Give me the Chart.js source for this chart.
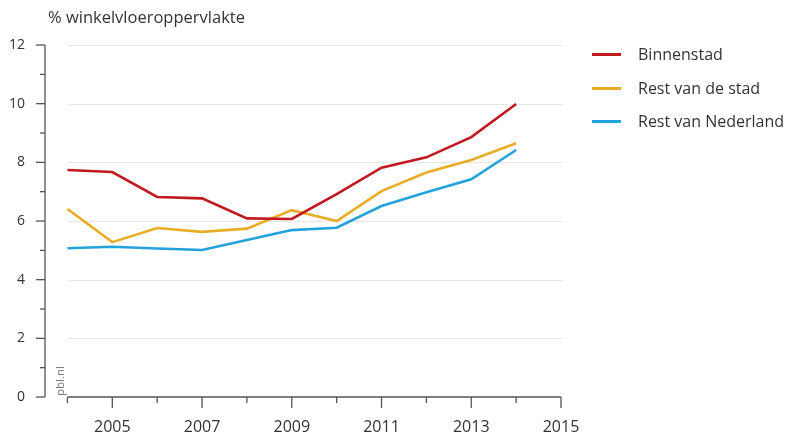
<!DOCTYPE html>
<html><head><meta charset="utf-8">
<script src="https://cdn.jsdelivr.net/npm/chart.js@4"></script>
<style>
body{margin:0;background:#fff;}
#wrap{position:relative;width:787px;height:434px;font-family:"Open Sans",sans-serif;color:#333;overflow:hidden;}
canvas{position:absolute;left:0;top:0;}
.title{position:absolute;left:48px;top:6px;font-size:16.5px;line-height:22px;white-space:nowrap;}
.pbl{position:absolute;left:45px;top:374px;font-size:11.5px;color:#777;transform:rotate(-90deg);transform-origin:center;width:30px;height:14px;line-height:14px;text-align:center;}
.leg{position:absolute;left:592px;font-size:16px;line-height:22px;white-space:nowrap;}
.leg span.l{display:inline-block;width:29px;height:3px;vertical-align:middle;margin-right:17px;position:relative;top:-1px;}
</style>
</head><body>
<div id="wrap">
<canvas id="c" width="787" height="434"></canvas>
<div class="title">% winkelvloeroppervlakte</div>
<div class="pbl">pbl.nl</div>
<div id="legend"></div>
</div>
<script>
const years = [2004, 2005, 2006, 2007, 2008, 2009, 2010, 2011, 2012, 2013, 2014];
const binnenstad = [7.74, 7.67, 6.82, 6.77, 6.09, 6.07, 6.92, 7.82, 8.17, 8.86, 9.99];
const restVanDeStad = [6.41, 5.28, 5.76, 5.63, 5.74, 6.37, 6.00, 7.02, 7.65, 8.08, 8.65];
const restVanNederland = [5.07, 5.12, 5.06, 5.01, 5.35, 5.69, 5.77, 6.51, 6.98, 7.42, 8.42];
const seriesNames = ["Binnenstad", "Rest van de stad", "Rest van Nederland"];
const seriesColors = ["#c1191f", "#e8ad26", "#23a2dc"];
const yTickValues = [0, 2, 4, 6, 8, 10, 12];
const xTickValues = [2005, 2007, 2009, 2011, 2013, 2015];

const allSeries = [binnenstad, restVanDeStad, restVanNederland];

// HTML legend
const legTops = [43, 77, 110];
const legendEl = document.getElementById('legend');
seriesNames.forEach((n, i) => {
  const d = document.createElement('div');
  d.className = 'leg';
  d.style.top = legTops[i] + 'px';
  d.innerHTML = '<span class="l" style="background:' + seriesColors[i] + '"></span>' + n;
  legendEl.appendChild(d);
});

const axisPlugin = {
  id: 'axisPlugin',
  beforeDatasetsDraw(chart) {
    const ctx = chart.ctx, xs = chart.scales.x, ys = chart.scales.y;
    const x0 = xs.getPixelForValue(years[0]);
    const x1 = xs.getPixelForValue(2015);
    const yAxisX = chart.chartArea.left;
    ctx.save();
    ctx.strokeStyle = '#e6e6e6';
    ctx.lineWidth = 1;
    for (let v = 2; v <= 12; v += 2) {
      const y = Math.round(ys.getPixelForValue(v)) + 0.5;
      ctx.beginPath(); ctx.moveTo(x0, y); ctx.lineTo(x1 + 2, y); ctx.stroke();
    }
    ctx.strokeStyle = '#555';
    ctx.lineWidth = 1.3;
    ctx.beginPath();
    ctx.moveTo(yAxisX, ys.getPixelForValue(12));
    ctx.lineTo(yAxisX, ys.getPixelForValue(0));
    ctx.stroke();
    for (let v = 0; v <= 12; v++) {
      const y = ys.getPixelForValue(v);
      const len = v % 2 === 0 ? 9 : 5;
      ctx.beginPath(); ctx.moveTo(yAxisX - len, y); ctx.lineTo(yAxisX, y); ctx.stroke();
    }
    const yb = ys.getPixelForValue(0);
    ctx.beginPath(); ctx.moveTo(x0, yb); ctx.lineTo(x1, yb); ctx.stroke();
    for (let v = 2004; v <= 2015; v++) {
      const x = xs.getPixelForValue(v);
      const len = v % 2 === 1 ? 11 : 6;
      ctx.beginPath(); ctx.moveTo(x, yb); ctx.lineTo(x, yb + len); ctx.stroke();
    }
    ctx.restore();
  }
};

new Chart(document.getElementById('c'), {
  type: 'line',
  data: {
    datasets: allSeries.map((s, i) => ({
      label: seriesNames[i],
      data: years.map((y, j) => ({x: y, y: s[j]})),
      borderColor: seriesColors[i],
      backgroundColor: seriesColors[i],
      borderWidth: 2.6,
      pointRadius: 0,
      tension: 0,
      fill: false
    }))
  },
  options: {
    responsive: false,
    animation: false,
    events: [],
    layout: {padding: {left: 0, right: 226, top: 45, bottom: 0}},
    plugins: {legend: {display: false}, tooltip: {enabled: false}},
    scales: {
      x: {
        type: 'linear', min: 2003.5, max: 2015,
        afterBuildTicks: s => { s.ticks = xTickValues.map(v => ({value: v})); },
        afterFit: s => { s.height = 37; },
        grid: {display: false, drawTicks: false},
        border: {display: false},
        ticks: {color: '#333', font: {family: 'Open Sans', size: 16}, padding: 21, maxRotation: 0, autoSkip: false, callback: v => String(v)}
      },
      y: {
        min: 0, max: 12,
        afterBuildTicks: s => { s.ticks = yTickValues.map(v => ({value: v})); },
        afterFit: s => { s.width = 45; },
        grid: {display: false, drawTicks: false},
        border: {display: false},
        ticks: {color: '#333', font: {family: 'Open Sans', size: 14}, padding: 20, callback: v => String(v)}
      }
    }
  },
  plugins: [axisPlugin]
});
</script>
</body></html>
